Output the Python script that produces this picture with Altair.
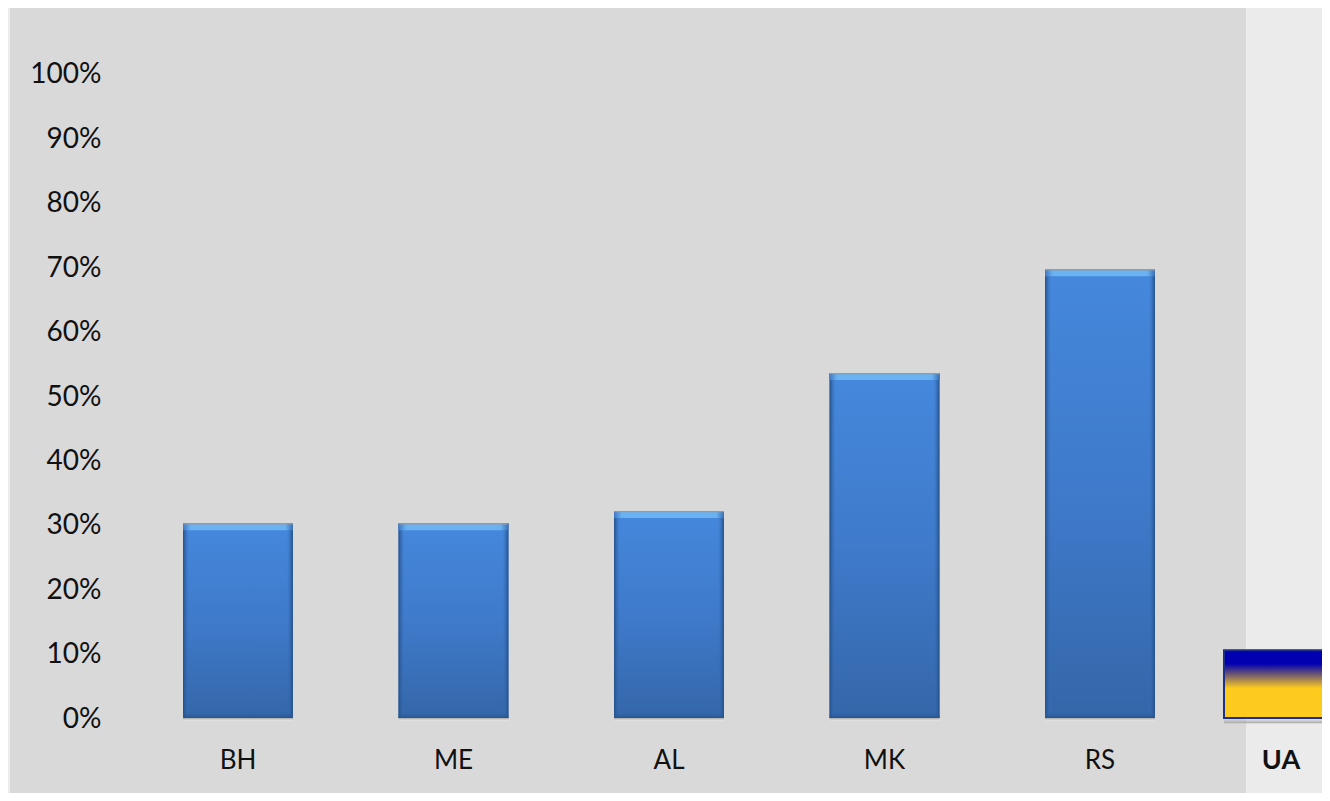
import altair as alt
import pandas as pd

categories = ["BH", "ME", "AL", "MK", "RS"]
values = [0.302, 0.302, 0.321, 0.535, 0.696]
flag_category = ["UA"]
flag_values = [0.105]
y_ticks = [i / 10 for i in range(11)]

FONT = "Lato"
df = pd.DataFrame({"c": categories, "v": values})
flag = pd.DataFrame({"c": flag_category, "v": flag_values})

W, H = 1312, 785
y_scale = alt.Scale(domain=[-0.1163, 1.1008], nice=False, zero=False)
x_scale = alt.Scale(domain=categories, paddingInner=0.49, paddingOuter=0.7889, align=0.5088)
flag_scale = alt.Scale(domain=flag_category, range=[1214, 1320], paddingInner=0, paddingOuter=0)
y_axis = alt.Axis(orient="left", offset=-91, values=y_ticks, format=".0%", domain=False,
                  ticks=False, grid=False, labelPadding=0, labelFont=FONT, labelFontSize=28,
                  labelOffset=1.5, labelColor="#111111", zindex=1)


def grad(stops, x2=0, y2=1):
    return alt.Gradient(
        gradient="linear", x1=0, y1=0, x2=x2, y2=y2,
        stops=[alt.GradientStop(offset=o, color=c) for o, c in stops],
    )


def X(axis=None):
    return alt.X("c:N", scale=x_scale, sort=None, axis=axis, title=None)


def Y(field="v"):
    return alt.Y(f"{field}:Q", scale=y_scale, axis=y_axis, title=None)


panel = alt.Chart(pd.DataFrame({"a": [0]})).mark_rect(color="#d9d9d9").encode(
    x=alt.value(0), x2=alt.value(1236), y=alt.value(0), y2=alt.value(H)
)

base = alt.Chart(df)

# faint reflection under each column
under = base.transform_calculate(lo="-0.004", hi="0").mark_bar(
    color=grad([(0, "#a9a9a9"), (1, "#e9e9e9")])
).encode(x=X(), y=Y("lo"), y2="hi:Q")

main = base.transform_calculate(z="0").mark_bar(
    color=grad([(0, "#4588dc"), (0.5, "#3f7acb"), (1, "#3467a9")]),
).encode(
    x=X(alt.Axis(orient="bottom", offset=-46, domain=False, ticks=False, labelPadding=0,
                 labelAngle=0, labelFont=FONT, labelFontSize=26, labelColor="#111111",
                 labelBaseline="top", grid=False, zindex=1)),
    y=Y("v"),
    y2="z:Q",
)

sides = base.transform_calculate(z="0").mark_bar(
    color=grad([(0, "#234f88"), (0.055, "#3a72bd00"), (0.945, "#3a72bd00"), (1, "#234f88")], x2=1, y2=0)
).encode(x=X(), y=Y(), y2="z:Q")

bottom = base.transform_calculate(lo="0.0", hi="0.008").mark_bar(
    color=grad([(0, "#2f5d9a00"), (1, "#28548f")])
).encode(x=X(), y=Y("hi"), y2="lo:Q")

top = base.transform_calculate(lo="datum.v - 0.011").mark_bar(
    color=grad([(0, "#3f78c4"), (0.07, "#6ab2f2"), (0.93, "#6ab2f2"), (1, "#3a6fb5")], x2=1, y2=0)
).encode(x=X(), y=Y(), y2="lo:Q")

top_edge = base.transform_calculate(lo="datum.v - 0.002").mark_bar(color="#8f9bab").encode(
    x=X(), y=Y(), y2="lo:Q"
)

fl = alt.Chart(flag)
flag_shadow = fl.transform_calculate(lo="-0.008", hi="0").mark_bar(
    color=grad([(0, "#c4c4c400"), (1, "#a8a8a8")])
).encode(x=alt.X("c:N", scale=flag_scale, axis=None, title=None), y=Y("lo"), y2="hi:Q")

flag_bar = fl.transform_calculate(z="0").mark_bar(
    color=grad([(0, "#0000b0"), (0.2, "#0000b0"), (0.56, "#fdcb1e"), (1, "#fdcb1e")]),
    stroke="#1f2f87", strokeWidth=2,
).encode(
    x=alt.X("c:N", scale=flag_scale, title=None,
            axis=alt.Axis(orient="bottom", offset=-46, domain=False, ticks=False, labelPadding=0,
                          labelAngle=0, labelFont=FONT, labelFontSize=27, labelFontWeight="bold",
                          labelColor="#111111", labelBaseline="top", labelOffset=4, grid=False,
                          zindex=1)),
    y=Y(),
    y2="z:Q",
)

chart = (
    alt.layer(panel, under, main, sides, bottom, top, top_edge, flag_shadow, flag_bar)
    .resolve_scale(x="independent")
    .properties(
        width=W, height=H,
        background="#ebebeb",
        padding={"left": 2, "top": 0, "right": 0, "bottom": 0},
        autosize=alt.AutoSizeParams(type="none"),
    )
    .configure_view(stroke=None)
)

chart.save("out.html", embed_options={"renderer": "svg", "actions": False})
